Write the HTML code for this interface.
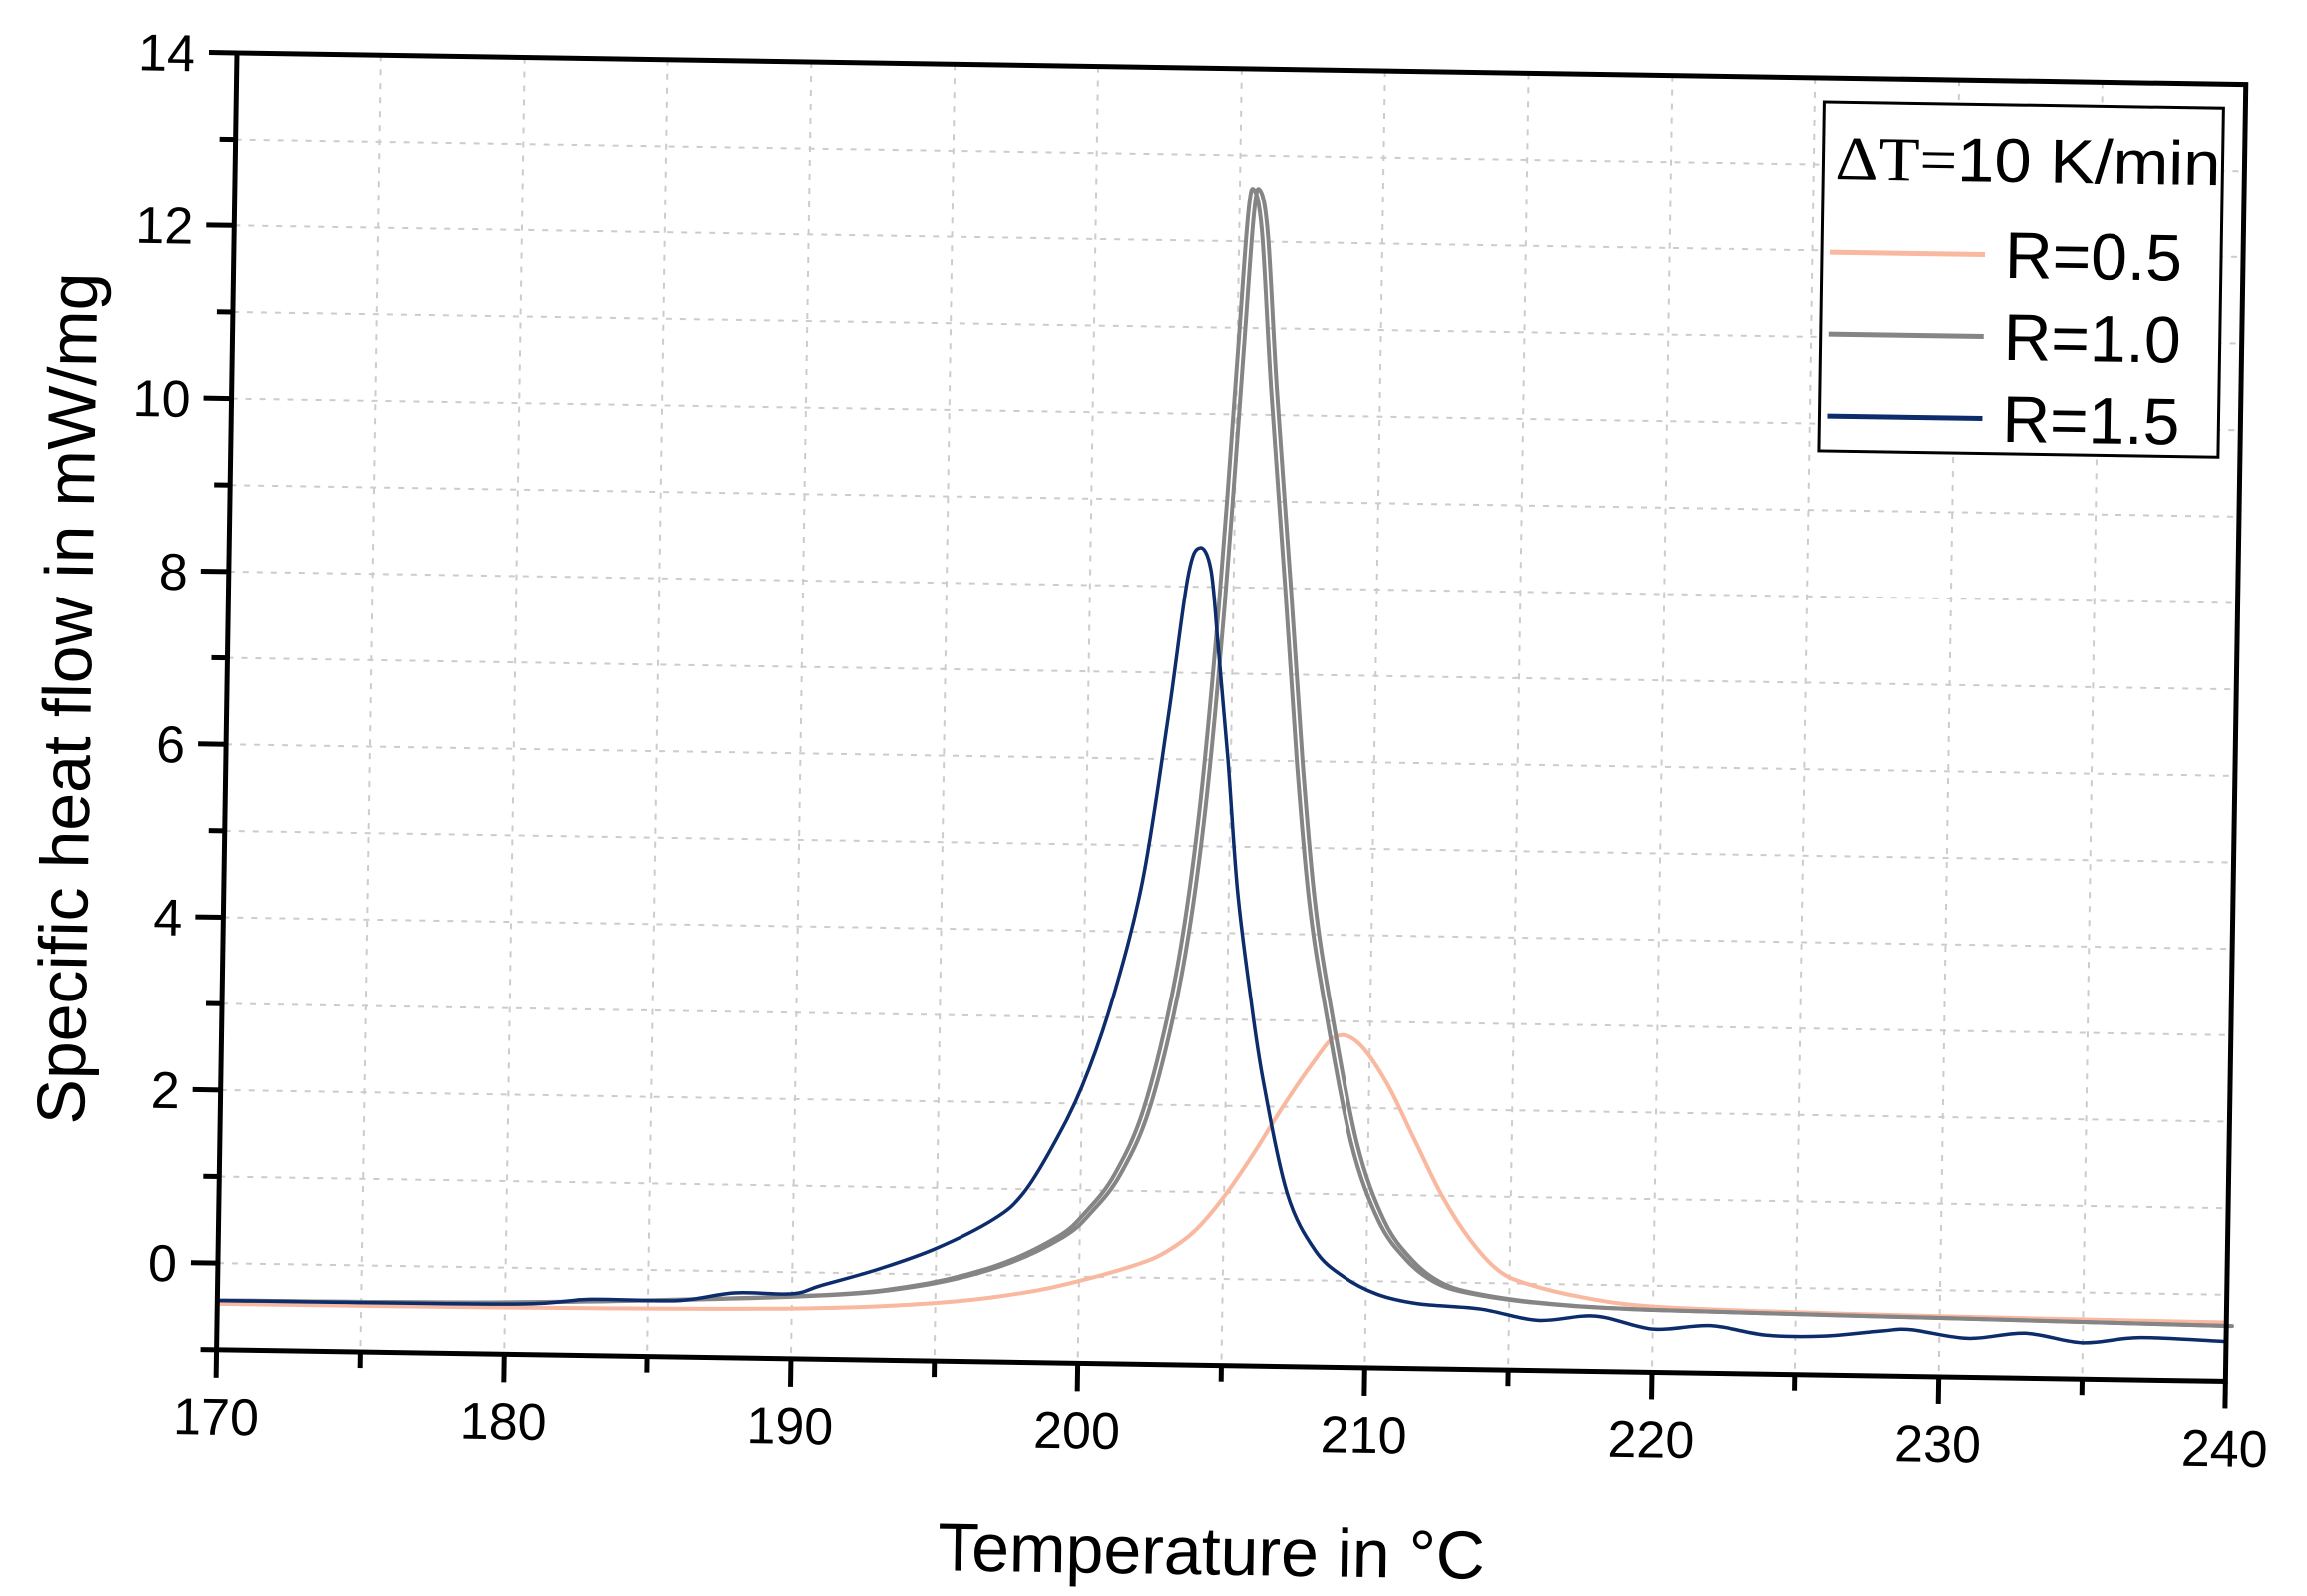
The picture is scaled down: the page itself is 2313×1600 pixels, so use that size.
<!DOCTYPE html>
<html><head><meta charset="utf-8"><style>
html,body{margin:0;padding:0;background:#fff;}
svg{display:block;}
text{font-family:"Liberation Sans",sans-serif;fill:#000;}
</style></head><body>
<svg id="s" width="2313" height="1600" viewBox="0 0 2313 1600" xmlns="http://www.w3.org/2000/svg">
<g transform="rotate(0.9 238 53) translate(238 53)" id="g">
<g id="grid" stroke="#cccccc" stroke-width="2" stroke-dasharray="6 8" fill="none"></g>
<g id="curves" fill="none" stroke-linejoin="round" stroke-linecap="round"></g>
<rect x="0" y="0" width="2014" height="1300" fill="none" stroke="#000" stroke-width="5"/>
<g id="ticks" stroke="#000" stroke-width="5"></g>
<g id="labels" font-size="52"></g>
<text x="1000" y="1510" font-size="68" text-anchor="middle">Temperature in °C</text>
<text transform="translate(-137 650) rotate(-90)" font-size="68" text-anchor="middle">Specific heat flow in mW/mg</text>
<rect x="1592" y="24" width="400" height="350" fill="#fff" stroke="#000" stroke-width="3"/>
<text x="1604" y="101" font-size="62" textLength="386" lengthAdjust="spacingAndGlyphs"><tspan font-family="Liberation Serif">ΔT=</tspan>10 K/min</text>
<line x1="1600" y1="175" x2="1755" y2="175" stroke="#f9b8a0" stroke-width="5"/>
<text x="1775" y="198" font-size="66">R=0.5</text>
<line x1="1600" y1="257" x2="1755" y2="257" stroke="#858585" stroke-width="5"/>
<text x="1775" y="280" font-size="66">R=1.0</text>
<line x1="1600" y1="339" x2="1755" y2="339" stroke="#0d2c6c" stroke-width="5"/>
<text x="1775" y="362" font-size="66">R=1.5</text>
</g>
</svg>
<script>
var W=2014,H=1300,X0=170,X1=240,Y0=-1,Y1=14;
function px(x){return (x-X0)/(X1-X0)*W;}
function py(y){return H-(y-Y0)/(Y1-Y0)*H;}
var NS="http://www.w3.org/2000/svg";
function el(p,t,a,txt){var e=document.createElementNS(NS,t);for(var k in a)e.setAttribute(k,a[k]);if(txt!=null)e.textContent=txt;document.getElementById(p).appendChild(e);return e;}
for(var x=175;x<240;x+=5)el("grid","line",{x1:px(x),y1:0,x2:px(x),y2:H});
for(var y=0;y<14;y+=1)el("grid","line",{x1:0,y1:py(y),x2:W,y2:py(y)});
for(var x=170;x<=240;x+=5){var L=(x%10==0)?28:16;el("ticks","line",{x1:px(x),y1:H,x2:px(x),y2:H+L});
 if(x%10==0)el("labels","text",{x:px(x),y:H+86,"text-anchor":"middle"},x);}
for(var y=-1;y<=14;y+=1){var L=(y%2==0)?28:16;el("ticks","line",{x1:0,y1:py(y),x2:-L,y2:py(y)});
 if(y%2==0)el("labels","text",{x:-42,y:py(y)+19,"text-anchor":"end"},y);}
function path(d,col,w,dx){dx=dx||0;var p=d.map(function(a){return [px(a[0]+dx),py(a[1])];});
 var s="M"+p[0][0]+","+p[0][1];
 for(var i=0;i<p.length-1;i++){var a=p[Math.max(0,i-1)],b=p[i],c=p[i+1],e=p[Math.min(p.length-1,i+2)];
  s+=" C"+(b[0]+(c[0]-a[0])/6)+","+(b[1]+(c[1]-a[1])/6)+" "+(c[0]-(e[0]-b[0])/6)+","+(c[1]-(e[1]-b[1])/6)+" "+c[0]+","+c[1];}
 el("curves","path",{d:s,stroke:col,"stroke-width":w});}
var o=[[170,-0.47],[180,-0.46],[190,-0.42],[195,-0.33],[198,-0.2],[200,-0.05],[202,0.15],[203,0.3],[204,0.55],[205,0.95],[206,1.45],[207,2.0],[208,2.5],[208.8,2.82],[209.6,2.75],[210.6,2.3],[211.6,1.65],[212.6,1.0],[213.6,0.5],[214.6,0.15],[215.6,0.0],[217.6,-0.15],[220,-0.24],[225,-0.28],[230,-0.3],[240,-0.32]];
var g=[[170,-0.43],[180,-0.4],[190,-0.28],[194,-0.15],[197,0.1],[199.2,0.45],[200.2,0.75],[201.2,1.2],[202.2,2.0],[203.2,3.5],[203.9,5.3],[204.5,7.8],[205,10.6],[205.3,12.3],[205.5,12.6],[205.8,12.1],[206.2,10.3],[206.8,8.0],[207.3,6.0],[207.8,4.4],[208.4,3.2],[209.4,1.6],[210.4,0.7],[211.4,0.25],[212.4,0.0],[213.6,-0.12],[216,-0.22],[220,-0.28],[230,-0.32],[240,-0.36]];
var b=[[170,-0.43],[180,-0.42],[183,-0.35],[186,-0.35],[188,-0.25],[190,-0.25],[191,-0.15],[193,0.05],[195,0.3],[197,0.65],[198,0.95],[199,1.5],[200,2.2],[201,3.2],[202,4.6],[202.8,6.5],[203.4,8.1],[203.8,8.45],[204.2,8.2],[204.5,7.3],[204.9,6.0],[205.3,4.5],[205.8,3.3],[206.3,2.3],[207.2,1.0],[208.2,0.35],[209.2,0.05],[210.4,-0.15],[211.8,-0.25],[214,-0.3],[216,-0.42],[218,-0.36],[220,-0.5],[222,-0.45],[224,-0.55],[226,-0.55],[228,-0.48],[229,-0.46],[231,-0.55],[233,-0.48],[235,-0.58],[237,-0.51],[240,-0.54]];
path(o,"#f9b8a0",4);
path(g,"#858585",4);
path(g,"#858585",4,0.2);
path(b,"#0d2c6c",3.5);
</script>
</body></html>
